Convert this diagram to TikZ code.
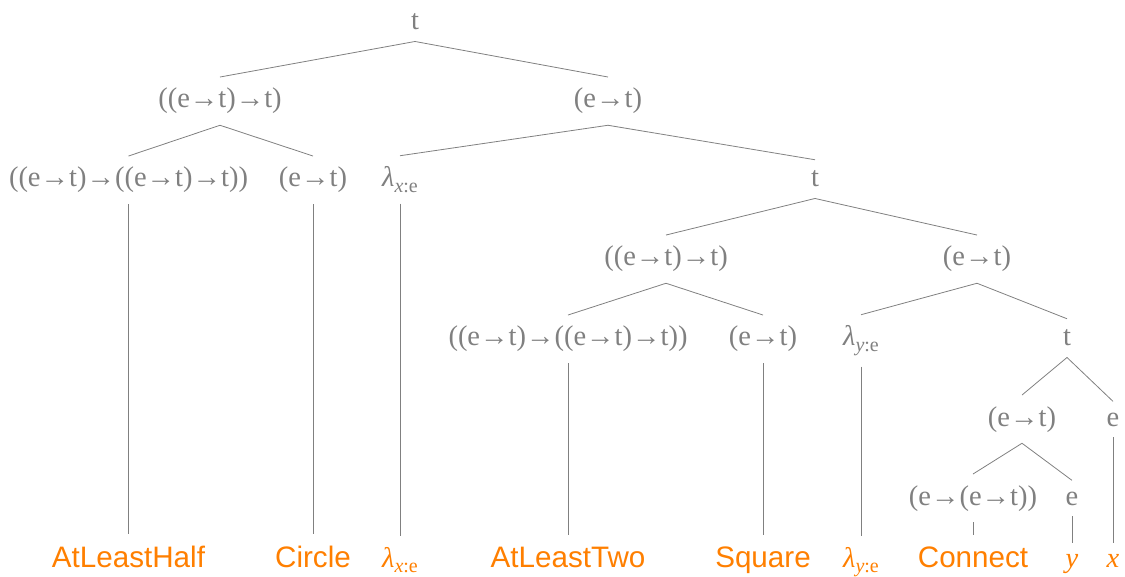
\documentclass[tikz,border=0pt]{standalone}
\usepackage{fontspec}
\setmainfont{Liberation Serif}
\setsansfont{Liberation Sans}
\definecolor{tgray}{RGB}{128,128,128}
\definecolor{torange}{RGB}{255,127,0}
\newcommand{\lamsub}[1]{{\itshape λ}\raisebox{-0.18em}{\fontsize{20}{20}\selectfont{\itshape #1}:e}}
\begin{document}
\begin{tikzpicture}[x=1pt,y=-1pt,
  every node/.style={anchor=base, inner xsep=0pt, inner ysep=11pt, font=\fontsize{28.5}{30}\selectfont, text=tgray},
  leaf/.style={text=torange, font=\fontsize{29.6}{30}\selectfont\sffamily},
  leafm/.style={text=torange},
  edge/.style={draw=tgray, line width=0.8pt}]
\useasboundingbox (0,0) rectangle (1125,577);
% internal nodes
\node (r) at (415,30) {t};
\node (a) at (220,108) {((e→t)→t)};
\node (b) at (608,108) {(e→t)};
\node (a1) at (128.5,187) {((e→t)→((e→t)→t))};
\node (a2) at (313,187) {(e→t)};
\node (bl) at (400,187) {\lamsub{x}};
\node (bt) at (815,187) {t};
\node (c) at (666,266) {((e→t)→t)};
\node (d) at (977,266) {(e→t)};
\node (c1) at (568,346) {((e→t)→((e→t)→t))};
\node (c2) at (763,346) {(e→t)};
\node (dl) at (861,346) {\lamsub{y}};
\node (dt) at (1067,346) {t};
\node (f) at (1022,426) {(e→t)};
\node (fe) at (1113,426) {e};
\node (g) at (973,505) {(e→(e→t))};
\node (ge) at (1072,505) {e};
% leaves
\node[leaf] (l1) at (128.5,567) {AtLeastHalf};
\node[leaf] (l2) at (313,567) {Circle};
\node[leafm] (l3) at (400,567) {\lamsub{x}};
\node[leaf] (l4) at (568,567) {AtLeastTwo};
\node[leaf] (l5) at (763,567) {Square};
\node[leafm] (l6) at (861,567) {\lamsub{y}};
\node[leaf] (l7) at (973,567) {Connect};
\node[leafm] (l8) at (1072,567) {\itshape y};
\node[leafm] (l9) at (1113,567) {\itshape x};
% edges
\draw[edge] (r.south) -- (a.north);
\draw[edge] (r.south) -- (b.north);
\draw[edge] (a.south) -- (a1.north);
\draw[edge] (a.south) -- (a2.north);
\draw[edge] (b.south) -- (bl.north);
\draw[edge] (b.south) -- (bt.north);
\draw[edge] (bt.south) -- (c.north);
\draw[edge] (bt.south) -- (d.north);
\draw[edge] (c.south) -- (c1.north);
\draw[edge] (c.south) -- (c2.north);
\draw[edge] (d.south) -- (dl.north);
\draw[edge] (d.south) -- (dt.north);
\draw[edge] (dt.south) -- (f.north);
\draw[edge] (dt.south) -- (fe.north);
\draw[edge] (f.south) -- (g.north);
\draw[edge] (f.south) -- (ge.north);
\draw[edge] (a1.south) -- (l1.north);
\draw[edge] (a2.south) -- (l2.north);
\draw[edge] (bl.south) -- (l3.north);
\draw[edge] (c1.south) -- (l4.north);
\draw[edge] (c2.south) -- (l5.north);
\draw[edge] (dl.south) -- (l6.north);
\draw[edge] (g.south) -- (l7.north);
\draw[edge] (ge.south) -- (l8.north);
\draw[edge] (fe.south) -- (l9.north);
\end{tikzpicture}
\end{document}
